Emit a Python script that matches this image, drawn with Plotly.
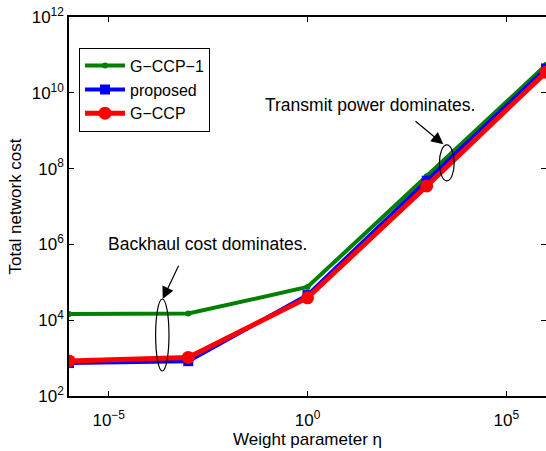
import plotly.graph_objects as go

# Data
eta = [1e-6, 1e-3, 1e0, 1e3, 1e6]
gccp1 = [1.45e4, 1.5e4, 7.5e4, 6.3e7, 5.4e10]
proposed = [7.4e2, 8.3e2, 4.6e4, 4.8e7, 4.4e10]
gccp = [8.4e2, 1.04e3, 3.9e4, 3.5e7, 3.5e10]

x_tickvals = [1e-5, 1e0, 1e5]
x_ticktext = ["10<sup>−5</sup>", "10<sup>0</sup>", "10<sup>5</sup>"]
y_tickvals = [1e2, 1e4, 1e6, 1e8, 1e10, 1e12]
y_ticktext = ["10<sup>2</sup>", "10<sup>4</sup>", "10<sup>6</sup>", "10<sup>8</sup>",
              "10<sup>10</sup>", "10<sup>12</sup>"]

FONT = "Liberation Sans, Arial, sans-serif"

fig = go.Figure()
fig.add_trace(go.Scatter(x=eta, y=gccp1, name="G−CCP−1", mode="lines+markers",
                         line=dict(color="rgb(0,128,0)", width=4),
                         marker=dict(symbol="circle", size=6, color="rgb(0,128,0)")))
fig.add_trace(go.Scatter(x=eta, y=proposed, name="proposed", mode="lines+markers",
                         line=dict(color="rgb(0,0,255)", width=4),
                         marker=dict(symbol="square", size=10, color="rgb(0,0,255)")))
fig.add_trace(go.Scatter(x=eta, y=gccp, name="G−CCP", mode="lines+markers",
                         line=dict(color="rgb(255,0,0)", width=5),
                         marker=dict(symbol="circle", size=13, color="rgb(255,0,0)")))

axis_common = dict(type="log", showgrid=False, zeroline=False, showline=True,
                   linecolor="black", linewidth=1.5, ticks="inside", ticklen=5,
                   tickcolor="black", automargin=False,
                   tickfont=dict(family=FONT, size=17, color="black"))

fig.update_xaxes(range=[-6, 6], tickvals=x_tickvals, ticktext=x_ticktext, mirror="ticks",
                 ticklabelstandoff=8,
                 title=dict(text="Weight parameter η", font=dict(family=FONT, size=17, color="black"),
                            standoff=0),
                 **axis_common)
fig.update_yaxes(range=[2, 12], tickvals=y_tickvals, ticktext=y_ticktext, mirror=False,
                 title=dict(text="Total network cost", font=dict(family=FONT, size=17, color="black"),
                            standoff=6),
                 **axis_common)

# Right-side tick marks (the right spine lies just outside the visible area)
fig.update_layout(yaxis2=dict(overlaying="y", side="right", type="log", range=[2, 12],
                              tickvals=y_tickvals, showticklabels=False, ticks="inside",
                              ticklen=5, tickcolor="black", showline=False, showgrid=False,
                              zeroline=False, automargin=False))
fig.add_trace(go.Scatter(x=[eta[0]], y=[gccp1[0]], yaxis="y2", mode="markers",
                         marker=dict(opacity=0), showlegend=False, hoverinfo="skip"))

# Ellipses
fig.add_shape(type="circle", xref="paper", yref="paper",
              x0=0.1956 - 0.014, x1=0.1956 + 0.014, y0=0.161 - 0.095, y1=0.161 + 0.095,
              line=dict(color="black", width=1.2))
fig.add_shape(type="circle", xref="paper", yref="paper",
              x0=0.792 - 0.0155, x1=0.792 + 0.0155, y0=0.615 - 0.0475, y1=0.615 + 0.0475,
              line=dict(color="black", width=1.2))

# Text annotations
fig.add_annotation(x=0.2904, y=0.401, xref="paper", yref="paper", showarrow=False,
                   xanchor="center", yanchor="middle",
                   text="Backhaul cost dominates.", font=dict(family=FONT, size=17.5, color="black"))
fig.add_annotation(x=0.631, y=0.768, xref="paper", yref="paper", showarrow=False,
                   xanchor="center", yanchor="middle",
                   text="Transmit power dominates.", font=dict(family=FONT, size=17.5, color="black"))
# Arrows
fig.add_annotation(x=(162.7 - 69) / 477, y=(396 - 299) / 379, xref="paper", yref="paper",
                   text="", showarrow=True, ax=16.6, ay=-34.7, arrowhead=2, arrowsize=2,
                   arrowwidth=1.2, arrowcolor="black")
fig.add_annotation(x=(443.3 - 69) / 477, y=(396 - 144.3) / 379, xref="paper", yref="paper",
                   text="", showarrow=True, ax=-29.3, ay=-24.3, arrowhead=2, arrowsize=2,
                   arrowwidth=1.2, arrowcolor="black")

fig.update_layout(
    width=546, height=451,
    margin=dict(l=69, r=0, t=17, b=55),
    plot_bgcolor="white", paper_bgcolor="white",
    font=dict(family=FONT, size=17, color="black"),
    legend=dict(x=0.021, y=0.919, xanchor="left", yanchor="top",
                bordercolor="black", borderwidth=1, bgcolor="white",
                font=dict(family=FONT, size=16, color="black"),
                tracegroupgap=0, itemwidth=40),
)

fig.write_html("out.html", config={"displayModeBar": False},
               post_script="document.body.style.margin='0';document.body.style.padding='0';")
